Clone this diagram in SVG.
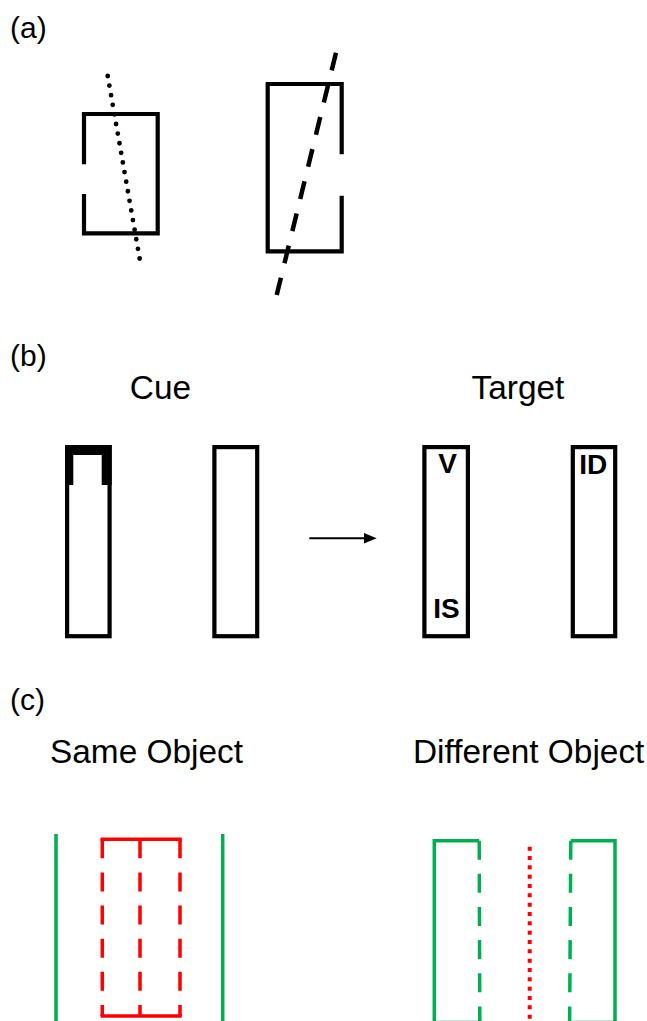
<svg xmlns="http://www.w3.org/2000/svg" width="647" height="1021" viewBox="0 0 647 1021">
  <style>
    .lbl { font-family: "Liberation Sans", Arial, sans-serif; font-size: 30px; fill: #000; }
    .ttl { font-family: "Liberation Sans", Arial, sans-serif; font-size: 33.4px; fill: #000; }
    .tag { font-family: "Liberation Sans", Arial, sans-serif; font-size: 28px; font-weight: bold; fill: #000; }
    .blk { fill: none; stroke: #000; stroke-width: 4.2; stroke-linejoin: miter; }
    .grn { fill: none; stroke: #00b050; stroke-width: 3.5; }
    .red { fill: none; stroke: #ff0000; stroke-width: 3.5; }
    .dash-v { stroke-dasharray: 19 14.14; }
  </style>
  <rect width="647" height="1021" fill="#fff"/>

  <!-- panel labels -->
  <text class="lbl" x="10" y="38">(a)</text>
  <text class="lbl" x="10" y="366">(b)</text>
  <text class="lbl" x="10" y="710">(c)</text>

  <!-- (a) two open rectangles with their axes -->
  <g id="a-left-object">
    <path class="blk" d="M84,164.3 V114 H157.7 V233.3 H84 V194"/>
    <line x1="107.7" y1="76" x2="141.3" y2="268" stroke="#000" stroke-width="4.8" stroke-linecap="round" stroke-dasharray="0 9.75"/>
  </g>
  <g id="a-right-object">
    <path class="blk" d="M341.7,154.3 V84 H267.7 V251.3 H341.7 V195.7"/>
    <line x1="336" y1="52.7" x2="276.7" y2="295" stroke="#000" stroke-width="4.5" stroke-dasharray="18.2 14.9"/>
  </g>

  <!-- (b) cue and target displays -->
  <text class="ttl" x="160.5" y="399" text-anchor="middle">Cue</text>
  <text class="ttl" x="518" y="399" text-anchor="middle">Target</text>

  <g id="cue-cued">
    <rect class="blk" x="67.1" y="447.1" width="42.5" height="189.1"/>
    <path d="M65,445 H111.7 V485 H101.7 V455 H73.3 V485 H65 Z" fill="#000"/>
  </g>
  <g id="cue-uncued">
    <rect class="blk" x="214.4" y="447.1" width="42.8" height="189.1"/>
  </g>
  <g id="target-left">
    <rect class="blk" x="424.4" y="447.1" width="43.5" height="189.1"/>
    <text class="tag" x="447.7" y="473.3" text-anchor="middle">V</text>
    <text class="tag" x="433.3" y="618.3">IS</text>
  </g>
  <g id="target-right">
    <rect class="blk" x="572.8" y="447.1" width="42.4" height="189.1"/>
    <text class="tag" x="579.3" y="474">ID</text>
  </g>

  <g id="connectors">
    <line x1="309.3" y1="538.3" x2="365" y2="538.3" stroke="#000" stroke-width="2"/>
    <polygon points="364,533 376.7,538.3 364,543.6" fill="#000"/>
  </g>

  <!-- (c) same vs different object conditions -->
  <text class="ttl" x="50" y="763">Same Object</text>
  <text class="ttl" x="413" y="763">Different Object</text>

  <g id="same-object">
    <line class="grn" x1="56" y1="834" x2="56" y2="1021"/>
    <line class="grn" x1="222.7" y1="834" x2="222.7" y2="1021"/>
    <line class="red" x1="102.3" y1="839.3" x2="180" y2="839.3" stroke-linecap="square"/>
    <line class="red" x1="102.3" y1="1016" x2="180" y2="1016" stroke-linecap="square"/>
    <line class="red dash-v" x1="102.3" y1="839.3" x2="102.3" y2="1016"/>
    <line class="red dash-v" x1="140" y1="839.3" x2="140" y2="1016"/>
    <line class="red dash-v" x1="180" y1="839.3" x2="180" y2="1016"/>
  </g>

  <g id="different-object">
    <path class="grn" d="M434.3,1023 V840.7 H479.2" stroke-linejoin="miter"/>
    <line class="grn dash-v" x1="479.2" y1="840.7" x2="479.8" y2="1023"/>
    <line class="grn" x1="434.3" y1="1022.6" x2="479.8" y2="1022.6"/>
    <path class="grn" d="M615,1023 V840.7 H570.8" stroke-linejoin="miter"/>
    <line class="grn dash-v" x1="570.8" y1="840.7" x2="569.6" y2="1023"/>
    <line class="grn" x1="569.6" y1="1022.6" x2="615" y2="1022.6"/>
    <line x1="529.7" y1="846.7" x2="529.7" y2="1021" stroke="#ff0000" stroke-width="4" stroke-dasharray="4 5.33"/>
  </g>
</svg>
